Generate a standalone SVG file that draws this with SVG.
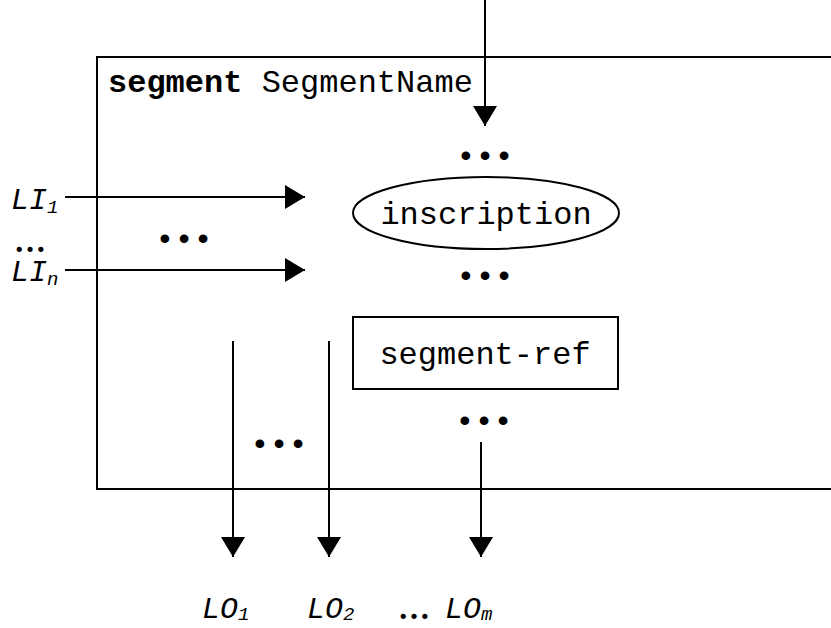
<svg xmlns="http://www.w3.org/2000/svg" width="831" height="628" viewBox="0 0 831 628">
<style>
.mono{font-family:"Liberation Mono","Courier New",monospace;fill:#000}
.lbl{font-family:"Liberation Mono","Courier New",monospace;font-style:italic;font-size:30px;fill:#000}
.sub{font-size:19px}
.dots{font-family:"Liberation Mono","Courier New",monospace;font-size:32px;text-anchor:middle;fill:#000}
.sdots{font-family:"Liberation Serif","Times New Roman",serif;font-weight:bold;font-size:32px;fill:#000}
.ln{stroke:#000;stroke-width:2;fill:none}
</style>
<defs>
<marker id="ah" viewBox="0 0 20 24" refX="20" refY="12" markerWidth="20" markerHeight="24" markerUnits="userSpaceOnUse" orient="auto">
<path d="M0,0 L20,12 L0,24 z" fill="#000"/>
</marker>
</defs>
<rect width="831" height="628" fill="#fff"/>
<g id="segment-frame">
<path class="ln" d="M831,57 H97 V489 H831"/>
<text class="mono" x="108" y="92" font-size="32"><tspan font-weight="bold">segment</tspan> SegmentName</text>
</g>
<g id="inscription">
<ellipse class="ln" cx="486" cy="213" rx="133" ry="36"/>
<text class="mono" x="486" y="224" font-size="32" text-anchor="middle">inscription</text>
</g>
<g id="segment-ref">
<rect class="ln" x="353" y="317" width="265" height="72"/>
<text class="mono" x="485" y="364" font-size="32" text-anchor="middle">segment-ref</text>
</g>
<g id="dots">
<text class="dots" x="485" y="166">•••</text>
<text class="dots" x="485" y="286">•••</text>
<text class="dots" x="184" y="249">•••</text>
<text class="dots" x="484" y="431">•••</text>
<text class="dots" x="279" y="454">•••</text>
</g>
<g id="labels">
<text class="lbl" x="11" y="209">LI<tspan class="sub" dy="4">1</tspan></text>
<text class="sdots" x="14" y="252">…</text>
<text class="lbl" x="11" y="281">LI<tspan class="sub" dy="4">n</tspan></text>
<text class="lbl" x="202" y="618">LO<tspan class="sub" dy="2">1</tspan></text>
<text class="lbl" x="307" y="618">LO<tspan class="sub" dy="2">2</tspan></text>
<text class="sdots" x="398" y="619">…</text>
<text class="lbl" x="445" y="618">LO<tspan class="sub" dy="2">m</tspan></text>
</g>
<g id="connectors">
<line class="ln" x1="485" y1="0" x2="485" y2="126" marker-end="url(#ah)"/>
<line class="ln" x1="65" y1="197" x2="305" y2="197" marker-end="url(#ah)"/>
<line class="ln" x1="65" y1="270" x2="305" y2="270" marker-end="url(#ah)"/>
<line class="ln" x1="233" y1="341" x2="233" y2="557" marker-end="url(#ah)"/>
<line class="ln" x1="329" y1="341" x2="329" y2="557" marker-end="url(#ah)"/>
<line class="ln" x1="481" y1="442" x2="481" y2="557" marker-end="url(#ah)"/>
</g>
</svg>
